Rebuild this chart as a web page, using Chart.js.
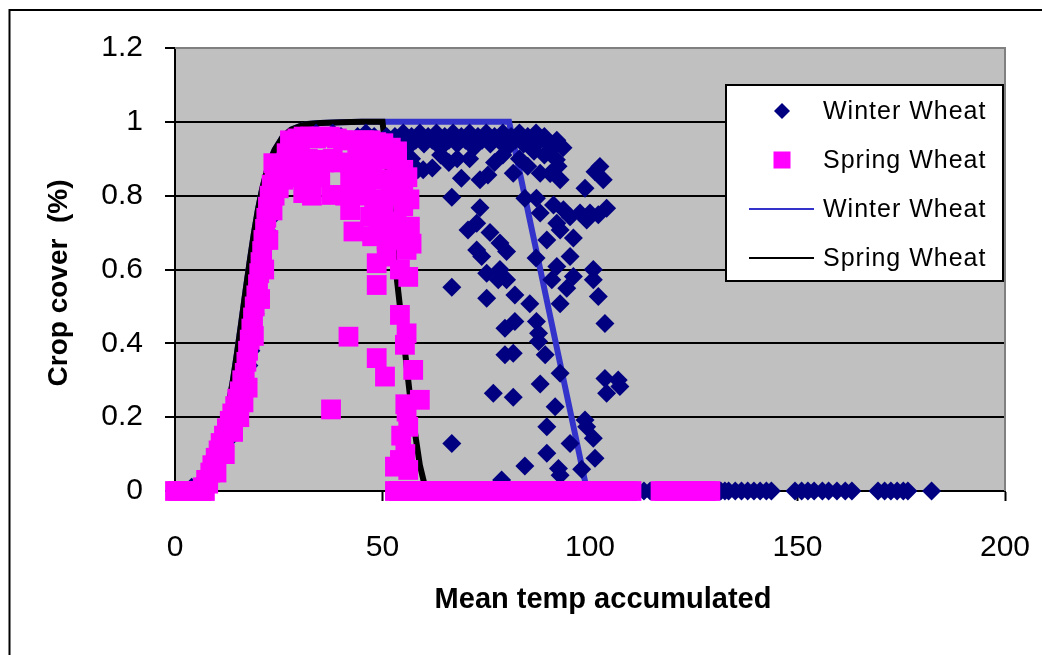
<!DOCTYPE html>
<html><head><meta charset="utf-8">
<script src="https://cdn.jsdelivr.net/npm/chart.js@4/dist/chart.umd.min.js"></script>
<style>html,body{margin:0;padding:0;background:#fff;}canvas{display:block;}</style>
</head><body>
<canvas id="c" width="1042" height="655"></canvas>
<script>
const xTickValues = [0, 50, 100, 150, 200];
const yTickValues = [0, 0.2, 0.4, 0.6, 0.8, 1, 1.2];
const yTickLabels = ['0', '0.2', '0.4', '0.6', '0.8', '1', '1.2'];
const seriesNames = ['Winter Wheat', 'Spring Wheat', 'Winter Wheat', 'Spring Wheat'];
const xTitle = 'Mean temp accumulated';
const yTitle = 'Crop cover  (%)';

// Winter wheat observations [x, y]
const winterObs = [
 [0,0],[1,0],[2,0],[3,0],[4,0.01],[5,0.01],[6,0.02],[7,0.03],[8,0.04],[9,0.06],[10,0.08],[11,0.1],[12,0.12],[13,0.14],[14,0.16],[15,0.19],[16,0.22],[16.7,0.26],[17.2,0.3],[17.8,0.34],[18.3,0.38],[18.8,0.43],[19.3,0.48],[19.8,0.53],[20.4,0.58],[21,0.63],[21.8,0.67],[22.6,0.7],[23.2,0.74],[23.8,0.78],[24.3,0.82],[25,0.86],[26,0.9],[27,0.92],
 [28,0.95],[30,0.96],[32,0.96],[34,0.97],[36,0.96],[38,0.97],[40,0.96],[42,0.95],[44,0.96],[46,0.97],[48,0.96],[50,0.95],[51,0.96],[52,0.94],[53,0.96],[54,0.95],[55,0.97],[56,0.93],[57,0.96],[58,0.95],[59,0.97],[60,0.94],[61,0.96],[62,0.95],[63,0.97],[64,0.93],[65,0.96],[66,0.95],[67,0.97],[68,0.94],[69,0.96],[70,0.95],[71,0.97],[72,0.93],[73,0.96],[74,0.95],[75,0.97],[76,0.94],[77,0.96],[78,0.95],[79,0.97],[80,0.93],[81,0.96],[82,0.95],[83,0.97],[84,0.94],[85,0.96],[86,0.95],[87,0.97],[88,0.95],[89,0.96],[90,0.94],[91,0.93],[92,0.95],
 [52,0.91],[54,0.86],[55,0.89],[56,0.88],[57,0.9],[58.5,0.87],[59.8,0.87],[62,0.875],[64,0.91],[66,0.89],[68,0.9],[69,0.847],[71,0.9],[73.5,0.843],[75.4,0.856],[77,0.89],[79,0.91],[81.5,0.861],[83,0.9],[85,0.88],[86.5,0.92],[88,0.861],[89,0.91],[90.4,0.924],[91.9,0.947],[91.9,0.897],[92.8,0.843],[93.5,0.93],
 [66.7,0.796],[66.7,0.552],[66.7,0.129],[73.5,0.767],[70.6,0.707],[72.7,0.725],[75.9,0.7],[72.7,0.653],[73.9,0.635],[78.3,0.672],[79.9,0.649],[75.1,0.59],[78.3,0.6],[77.9,0.572],[79.9,0.572],[75.1,0.522],[81.9,0.531],[85.5,0.507],[79.5,0.441],[81.9,0.459],[87.1,0.459],[87.6,0.427],[87.6,0.405],[79.5,0.369],[81.5,0.373],[89.2,0.369],[92.8,0.319],[88,0.29],[76.7,0.265],[81.5,0.254],[91.6,0.228],[89.6,0.174],[98.8,0.192],[99.2,0.174],[100.8,0.143],[95.2,0.129],[89.6,0.102],[101.2,0.089],[84.3,0.068],[92.4,0.061],[98,0.059],[92.8,0.043],[78.7,0.03],
 [84.3,0.793],[87.1,0.793],[88,0.753],[91.2,0.775],[93.6,0.762],[92,0.725],[92.8,0.707],[89.6,0.68],[96,0.685],[95.2,0.635],[87,0.631],[92,0.608],[90.8,0.572],[96,0.581],[94.4,0.549],[92.8,0.507],[100.8,0.6],[100.8,0.572],[102,0.527],[103.6,0.454],[103.6,0.305],[106.8,0.301],[104,0.265],[107.2,0.283],[98.8,0.82],[102.4,0.879],[103.2,0.843],[101.2,0.865],[104,0.766],[97.6,0.753],[100,0.753],[99.2,0.734],[102,0.748],[95.2,0.743],[92.3,0.88],[90.4,0.86],
 [99,0],[102,0],[105,0],[108,0],[113,0],[114.5,0],[120,0],[125,0],[131.5,0],[132.5,0],[133.4,0],[135,0],[136.5,0],[138,0],[139.5,0],[141,0],[142.5,0],[143.7,0],[149.4,0],[151,0],[152.5,0],[154,0],[156,0],[157.5,0],[159.5,0],[161.5,0],[163.1,0],[169.4,0],[171,0],[172.5,0],[174,0],[175.5,0],[176.6,0],[182.3,0]
];

// Spring wheat observations [x, y]
const springObs = [
 [0,0],[0.8,0],[1.6,0],[2.4,0],[3.2,0],[4,0],[4.8,0],[5.6,0],[6.4,0],[7.2,0],
 [6.7,0.01],[7.5,0.03],[8,0.02],[8.5,0.05],[9,0.07],[9.8,0.09],[10,0.05],[10.5,0.11],[11,0.13],[11.8,0.15],[12,0.1],[12.5,0.17],[13.2,0.19],[13.8,0.21],[14,0.16],[14.5,0.23],[15,0.25],[15.5,0.2],[15.6,0.27],[16.2,0.3],[16.5,0.24],[16.8,0.32],[17.2,0.35],[17.5,0.28],[17.6,0.38],[18,0.41],[18.4,0.44],[18.8,0.47],[19,0.42],[19.2,0.5],[19.6,0.53],[20,0.56],[20.3,0.59],[20.5,0.52],[20.6,0.62],[21,0.65],[21.3,0.68],[21.5,0.6],[21.7,0.71],[22,0.74],[22.4,0.77],[22.5,0.68],[22.8,0.8],[23.3,0.83],[23.5,0.76],[24,0.85],[24,0.8],[25,0.87],[25,0.82],[26.5,0.88],[27,0.85],[28,0.89],[29.5,0.9],
 [27.7,0.95],[29.5,0.955],[31,0.96],[32.5,0.96],[34,0.955],[35.5,0.96],[37.3,0.96],[39,0.955],[40.5,0.95],[42.2,0.95],[44,0.945],[45.5,0.95],[47,0.95],[48.5,0.945],[50.2,0.942],[52,0.93],[53.5,0.92],[44,0.925],[48,0.93],
 [23.7,0.888],[26.9,0.915],[30.1,0.906],[32,0.9],[34.1,0.897],[36,0.89],[38,0.9],[40,0.89],[42.2,0.888],[44,0.9],[46.2,0.879],[48,0.9],[50,0.91],[51.8,0.897],[53.5,0.9],[55,0.87],
 [26.1,0.843],[28,0.85],[30,0.86],[32,0.84],[34.1,0.852],[35,0.85],[42.2,0.843],[44,0.85],[45.4,0.825],[47.5,0.85],[50.2,0.843],[52,0.84],[53.5,0.85],[55,0.816],[56,0.85],
 [30.9,0.807],[33,0.8],[37.8,0.802],[41,0.8],[43,0.81],[46,0.8],[48,0.79],[50.2,0.78],[52,0.8],[55,0.771],[56.5,0.79],
 [42.2,0.761],[47,0.743],[49,0.75],[53.4,0.725],[56.6,0.716],[51,0.73],
 [43,0.703],[47.5,0.69],[49,0.7],[51,0.68],[53,0.69],[55,0.68],[57,0.67],
 [48.6,0.617],[51,0.635],[54.2,0.6],[55.8,0.653],[56.2,0.58],[48.6,0.558],
 [54.2,0.477],[55.8,0.427],[55.4,0.396],[41.8,0.418],[48.6,0.36],[50.6,0.31],[57.4,0.328],[59,0.247],[55.5,0.235],[55.8,0.215],[56.2,0.174],[54.5,0.15],[54.2,0.084],[53,0.066],[56.2,0.057],[55.5,0.1],[37.6,0.221],
 [53,0],[54,0],[55,0],[56,0],[57,0],[58,0],[59,0],[60,0],[61,0],[62,0],[63,0],[64,0],[65,0],[66,0],[67,0],[68,0],[69,0],[70,0],[71,0],[72,0],[73,0],[74,0],[75,0],[76,0],[77,0],[78,0],[79,0],[80,0],[81,0],[82,0],[83,0],[84,0],[85,0],[86,0],[87,0],[88,0],[89,0],[90,0],[91,0],[92,0],[93,0],[94,0],[95,0],[96,0],[97,0],[98,0],[99,0],[100,0],[101,0],[102,0],[103,0],[104,0],[105,0],[106,0],[107,0],[108,0],[109,0],[110,0],
 [117,0],[118,0],[119,0],[120,0],[121,0],[122,0],[123,0],[124,0],[125,0],[126,0],[127,0],[128,0],[129,0]
];

// Fitted curves
const springLineX = [0,2,4,6,8,10,11,12,13,14,15,16,17,18,19,20,21,22,23,24,26,28,30,32,35,40,45,50,51,53,55,57,59,60.5];
const springLineY = [0.004,0.008,0.015,0.029,0.056,0.103,0.138,0.182,0.237,0.303,0.378,0.459,0.542,0.622,0.697,0.763,0.818,0.862,0.897,0.924,0.96,0.979,0.988,0.994,0.997,0.999,1,1,0.9,0.62,0.42,0.22,0.07,0];
const winterLineX = [0,2,4,6,8,10,11,12,13,14,15,16,17,18,19,20,21,22,23,24,26,28,30,32,35,40,45,50,80.5,99.3];
const winterLineY = [0.004,0.008,0.015,0.029,0.056,0.103,0.138,0.182,0.237,0.303,0.378,0.459,0.542,0.622,0.697,0.763,0.818,0.862,0.897,0.924,0.96,0.979,0.988,0.994,0.997,0.999,1,1,1,0];

const FONT = '"Liberation Sans", Arial, sans-serif';
const toPts = arr => arr.map(p => ({x: p[0], y: p[1]}));
const zipPts = (xs, ys) => xs.map((x, i) => ({x, y: ys[i]}));

const bgPlugin = {
  id: 'bg',
  beforeDraw(chart) {
    const {ctx, chartArea: a} = chart;
    ctx.save();
    ctx.fillStyle = '#fff';
    ctx.fillRect(0, 0, chart.width, chart.height);
    ctx.fillStyle = '#C0C0C0';
    ctx.fillRect(a.left, a.top, a.right - a.left, a.bottom - a.top);
    ctx.restore();
  },
  beforeDatasetsDraw(chart) {
    const {ctx, chartArea: a} = chart;
    ctx.save();
    ctx.strokeStyle = '#808080';
    ctx.lineWidth = 2;
    ctx.beginPath();
    ctx.moveTo(a.left, a.top); ctx.lineTo(a.right, a.top); ctx.lineTo(a.right, a.bottom);
    ctx.stroke();
    ctx.restore();
  },
  afterDraw(chart) {
    const ctx = chart.ctx;
    ctx.save();
    ctx.strokeStyle = '#000';
    ctx.lineWidth = 2;
    ctx.strokeRect(9.5, 10, 1100, 700);
    ctx.fillStyle = '#000';
    ctx.font = 'bold 29px ' + FONT;
    ctx.textAlign = 'center';
    ctx.textBaseline = 'alphabetic';
    ctx.fillText(xTitle, 603, 608);
    ctx.save();
    ctx.translate(67, 283);
    ctx.rotate(-Math.PI / 2);
    ctx.font = 'bold 28px ' + FONT;
    ctx.fillText(yTitle, 0, 0);
    ctx.restore();
    const L = {x: 726, y: 85, w: 277, h: 196};
    ctx.fillStyle = '#fff';
    ctx.fillRect(L.x, L.y, L.w, L.h);
    ctx.strokeStyle = '#000';
    ctx.lineWidth = 2;
    ctx.strokeRect(L.x, L.y, L.w, L.h);
    const rows = [111, 160, 209, 258];
    const mx = 782;
    ctx.fillStyle = '#000080';
    ctx.beginPath();
    ctx.moveTo(mx - 8, rows[0]); ctx.lineTo(mx, rows[0] - 8); ctx.lineTo(mx + 8, rows[0]); ctx.lineTo(mx, rows[0] + 8);
    ctx.closePath(); ctx.fill();
    ctx.fillStyle = '#FF00FF';
    ctx.fillRect(mx - 8.5, rows[1] - 8.5, 17, 17);
    ctx.lineWidth = 2;
    ctx.strokeStyle = '#3333CC';
    ctx.beginPath(); ctx.moveTo(749, rows[2]); ctx.lineTo(814, rows[2]); ctx.stroke();
    ctx.strokeStyle = '#000';
    ctx.beginPath(); ctx.moveTo(749, rows[3]); ctx.lineTo(814, rows[3]); ctx.stroke();
    ctx.fillStyle = '#000';
    ctx.font = '25px ' + FONT;
    ctx.textAlign = 'left';
    ctx.textBaseline = 'middle';
    try { ctx.letterSpacing = '1px'; } catch (e) {}
    seriesNames.forEach((n, i) => ctx.fillText(n, 823, rows[i] + 1));
    ctx.restore();
  }
};

new Chart(document.getElementById('c'), {
  type: 'scatter',
  data: {
    datasets: [
      {label: seriesNames[0], data: toPts(winterObs), pointStyle: 'rectRot', pointRadius: 9.5,
       backgroundColor: '#000080', borderColor: '#000080', borderWidth: 0, showLine: false, clip: false, order: 2},
      {label: seriesNames[1], data: toPts(springObs), pointStyle: 'rect', pointRadius: 14,
       backgroundColor: '#FF00FF', borderColor: '#FF00FF', borderWidth: 0, showLine: false, clip: false, order: 1},
      {label: seriesNames[2], data: zipPts(winterLineX, winterLineY), showLine: true, pointRadius: 0,
       borderColor: '#3333CC', borderWidth: 6, tension: 0, clip: false, order: 4},
      {label: seriesNames[3], data: zipPts(springLineX, springLineY), showLine: true, pointRadius: 0,
       borderColor: '#000000', borderWidth: 6, tension: 0, clip: false, order: 3}
    ]
  },
  options: {
    responsive: false,
    devicePixelRatio: 1,
    animation: false,
    events: [],
    layout: {autoPadding: false, padding: {top: 48, right: 37, left: 0, bottom: 0}},
    plugins: {legend: {display: false}, tooltip: {enabled: false}},
    scales: {
      x: {
        type: 'linear', min: 0, max: 200,
        afterBuildTicks: s => { s.ticks = xTickValues.map(v => ({value: v})); },
        afterFit: s => { s.height = 164; s.paddingRight = 0; s.paddingLeft = 0; },
        ticks: {color: '#000', font: {family: FONT, size: 30}, padding: 29, maxRotation: 0,
                callback: v => String(v)},
        grid: {drawOnChartArea: false, drawTicks: true, tickLength: 10, tickColor: '#000', tickWidth: 2, color: '#000'},
        border: {display: true, color: '#000', width: 2}
      },
      y: {
        type: 'linear', min: 0, max: 1.2,
        afterBuildTicks: s => { s.ticks = yTickValues.map(v => ({value: v})); },
        afterFit: s => { s.width = 175; s.paddingTop = 0; s.paddingBottom = 0; },
        ticks: {color: '#000', font: {family: FONT, size: 30}, padding: 22,
                callback: (v) => yTickLabels[Math.round(v / 0.2)]},
        grid: {drawOnChartArea: true, drawTicks: true, tickLength: 10, tickColor: '#000', tickWidth: 2, lineWidth: 2,
               color: c => (c.tick && c.tick.value >= 1.19) ? '#808080' : '#000'},
        border: {display: true, color: '#000', width: 2}
      }
    }
  },
  plugins: [bgPlugin]
});
</script>
</body></html>
